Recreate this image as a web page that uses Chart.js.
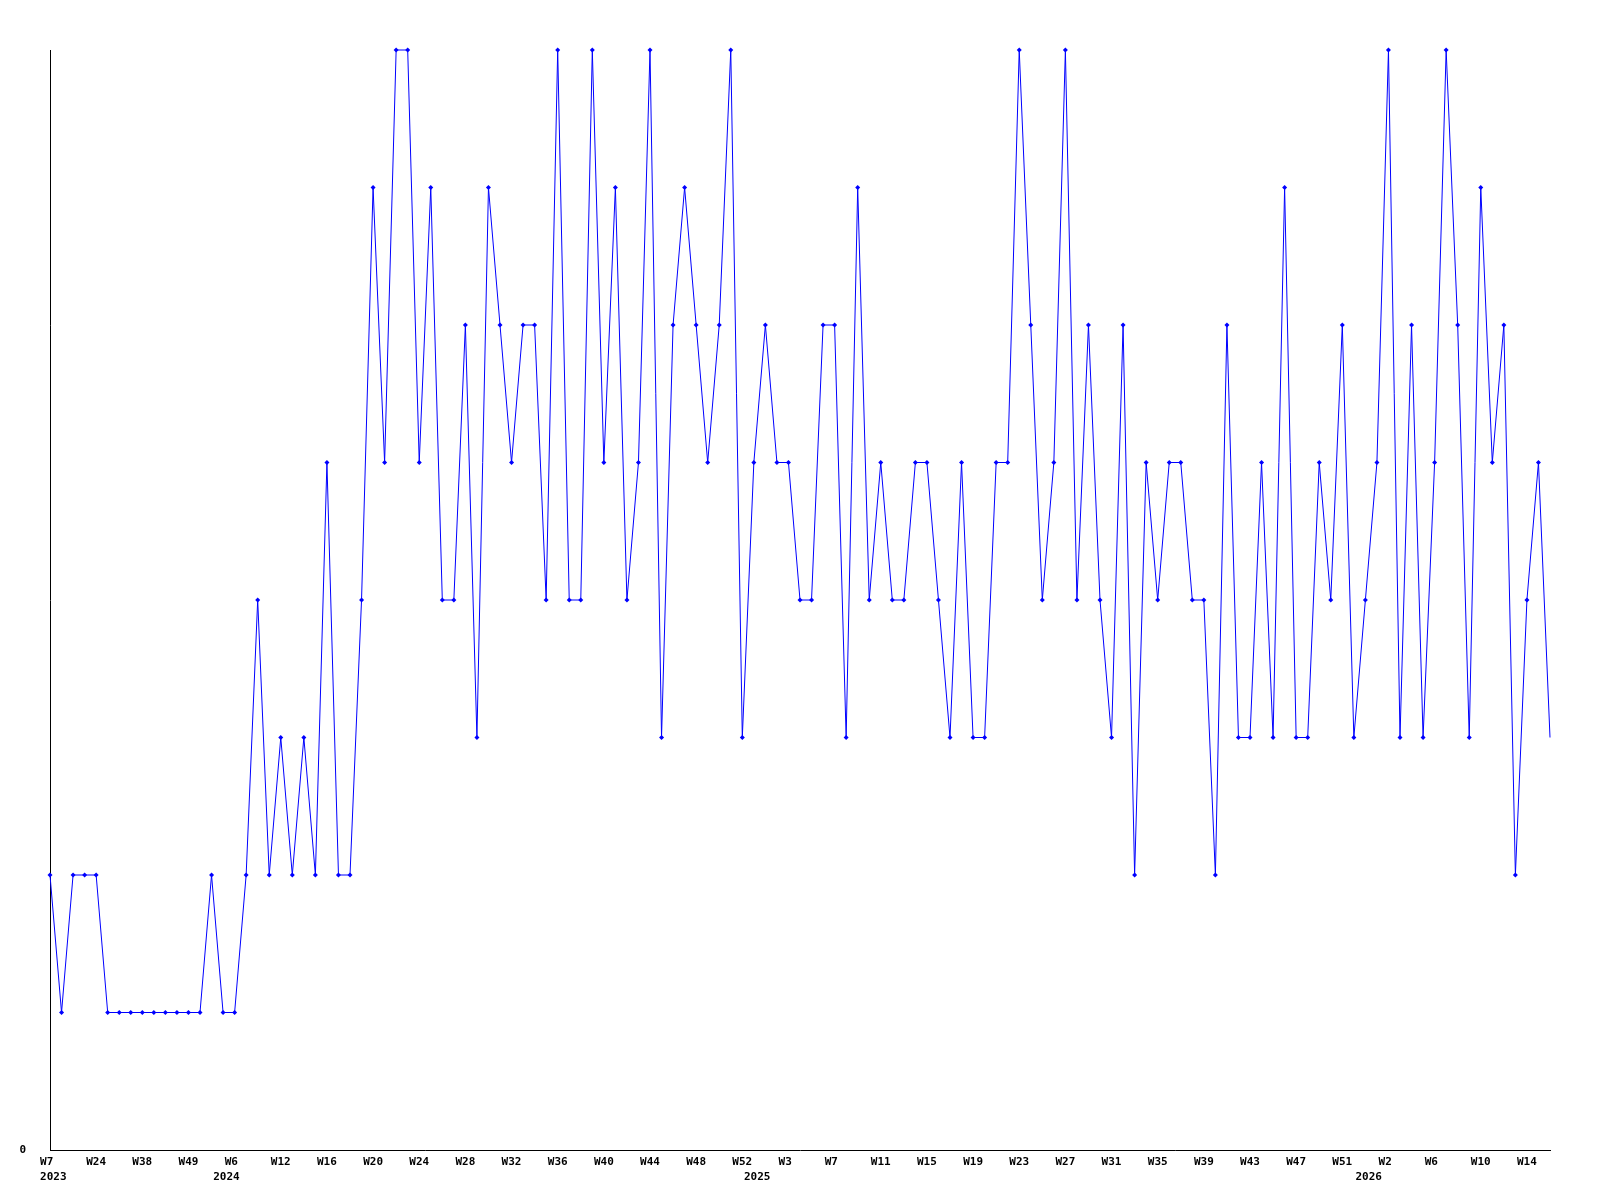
<!DOCTYPE html>
<html>
<head>
<meta charset="utf-8">
<script src="https://cdn.jsdelivr.net/npm/chart.js@4"></script>
<style>
  html, body { margin: 0; padding: 0; background: #fff; }
  #chart { display: block; }
</style>
</head>
<body>
<canvas id="chart" width="1600" height="1200"></canvas>
<script>
// week numbers, one per point (Sunday-based week numbering, W0 = partial first week)
const weeks = [
  7, 10, 15, 20, 24, 27, 31, 35, 38, 41, 44, 46, 49, 50, 52,
  0, 6, 8, 9, 11, 12, 13, 14, 15, 16, 17, 18, 19, 20, 21, 22, 23, 24, 25, 26, 27, 28, 29, 30,
  31, 32, 33, 34, 35, 36, 37, 38, 39, 40, 41, 42, 43, 44, 45, 46, 47, 48, 49, 50, 51, 52,
  0, 1, 2, 3, 4, 5, 6, 7, 8, 9, 10, 11, 12, 13, 14, 15, 16, 17, 18, 19, 20, 21, 22, 23, 24, 25,
  26, 27, 28, 29, 30, 31, 32, 33, 34, 35, 36, 37, 38, 39, 40, 41, 42, 43, 44, 45, 46, 47, 48,
  49, 50, 51, 52,
  0, 1, 2, 3, 4, 5, 6, 7, 8, 9, 10, 11, 12, 13, 14, 15, 16
];
// index where each year starts -> year label
const yearStarts = { 0: '2023', 15: '2024', 61: '2025', 114: '2026' };

const values = [
  2, 1, 2, 2, 2, 1, 1, 1, 1, 1,
  1, 1, 1, 1, 2, 1, 1, 2, 4, 2,
  3, 2, 3, 2, 5, 2, 2, 4, 7, 5,
  8, 8, 5, 7, 4, 4, 6, 3, 7, 6,
  5, 6, 6, 4, 8, 4, 4, 8, 5, 7,
  4, 5, 8, 3, 6, 7, 6, 5, 6, 8,
  3, 5, 6, 5, 5, 4, 4, 6, 6, 3,
  7, 4, 5, 4, 4, 5, 5, 4, 3, 5,
  3, 3, 5, 5, 8, 6, 4, 5, 8, 4,
  6, 4, 3, 6, 2, 5, 4, 5, 5, 4,
  4, 2, 6, 3, 3, 5, 3, 7, 3, 3,
  5, 4, 6, 3, 4, 5, 8, 3, 6, 3,
  5, 8, 6, 3, 7, 5, 6, 2, 4, 5,
  3
];

const yMax = 8;
const labelEvery = 4;

const labels = weeks.map(w => 'W' + w);
const tickFont = { family: '"DejaVu Sans Mono", monospace', size: 11, weight: 'bold', lineHeight: 15 / 11 };

new Chart(document.getElementById('chart'), {
  type: 'line',
  data: {
    labels,
    datasets: [{
      data: values,
      borderColor: '#0000ff',
      backgroundColor: '#0000ff',
      borderWidth: 1,
      tension: 0,
      pointStyle: 'rectRot',
      pointRadius: ctx => ctx.dataIndex === values.length - 1 ? 0 : 2.5,
      pointBorderWidth: 0,
      pointBackgroundColor: '#0000ff',
      clip: false
    }]
  },
  options: {
    responsive: false,
    animation: false,
    layout: { padding: { top: 50, right: 50, left: 0, bottom: 0 } },
    plugins: { legend: { display: false }, tooltip: { enabled: false } },
    scales: {
      x: {
        offset: false,
        grid: { display: false, drawTicks: false },
        border: { display: true, color: '#000', width: 1 },
        ticks: {
          autoSkip: false,
          maxRotation: 0,
          minRotation: 0,
          padding: 5,
          color: '#000',
          font: tickFont,
          callback: (v, i) => {
            // labels sit a little left of their point, years a little right
            const wk = i % labelEvery === 0 ? labels[i].padEnd(3, ' ') : '';
            const yr = yearStarts[i];
            if (yr) return [wk, ' ' + yr];
            return wk;
          }
        },
        afterFit: s => { s.height = 50; }
      },
      y: {
        min: 0,
        max: yMax,
        grid: { display: false, drawTicks: false },
        border: { display: true, color: '#000', width: 1 },
        ticks: {
          stepSize: 1,
          padding: 24,
          color: '#000',
          font: tickFont,
          callback: v => v === 0 ? '0' : ''
        },
        afterFit: s => { s.width = 50; }
      }
    }
  }
});
</script>
</body>
</html>
